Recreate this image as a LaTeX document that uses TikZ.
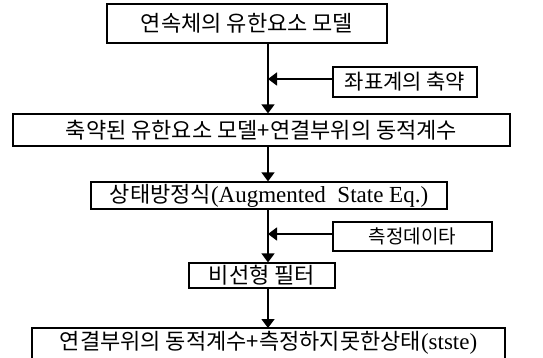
\documentclass[tikz,border=0pt]{standalone}
\usepackage{fontspec}
\setmainfont{Liberation Serif}
\newfontfamily\kr{Noto Sans CJK KR}
\usetikzlibrary{arrows.meta}
\tikzset{
  box/.style={draw, line width=1.2pt, inner sep=0pt, font=\kr\fontsize{22}{25}\selectfont},
  smallbox/.style={box, font=\kr\fontsize{21}{24}\selectfont},
  edge/.style={line width=1.2pt},
  conn/.style={line width=1.5pt, -{Triangle[length=9pt,width=13pt]}}
}
\newcommand{\latn}[1]{{\rmfamily\fontsize{23}{26}\selectfont #1}}
\begin{document}
\begin{tikzpicture}[x=1pt,y=-1pt]
\useasboundingbox (0,0) rectangle (543,358);
\coordinate (spine) at (268,0);
\coordinate (j1) at (268,79);
\coordinate (j2) at (268,234);
\node[box, minimum width=280, minimum height=39] (b1) at (247,23.5) {연속체의 유한요소 모델};
\node[smallbox, minimum width=144, minimum height=30] (b2) at (405,82) {좌표계의 축약};
\node[box, minimum width=497, minimum height=32] (b3) at (261.5,130) {축약된 유한요소 모델+연결부위의 동적계수};
\node[box, minimum width=356, minimum height=27] (b4) at (269,195.5) {상태방정식\latn{(Augmented\ \ State Eq.)}};
\node[smallbox, font=\kr\fontsize{19}{22}\selectfont, minimum width=159, minimum height=29] (b5) at (412.5,236.5) {측정데이타};
\node[box, minimum width=146, minimum height=25] (b6) at (262,275.5) {비선형 필터};
% last box: its bottom edge lies below the picture, so only three sides are drawn
\node[box, draw=none] (b7) at (268.5,343) {연결부위의 동적계수+측정하지못한상태\latn{(stste)}};
\coordinate (b7top) at (268,328);
\draw[edge] (32,360) -- (32,328) -- (505,328) -- (505,360);
\draw[conn] (b1.south -| spine) -- (b3.north -| spine);
\draw[conn] (b2.west |- j1) -- (j1);
\draw[conn] (b3.south -| spine) -- (b4.north -| spine);
\draw[conn] (b4.south -| spine) -- (b6.north -| spine);
\draw[conn] (b5.west |- j2) -- (j2);
\draw[conn] (b6.south -| spine) -- (b7top);
\end{tikzpicture}
\end{document}
